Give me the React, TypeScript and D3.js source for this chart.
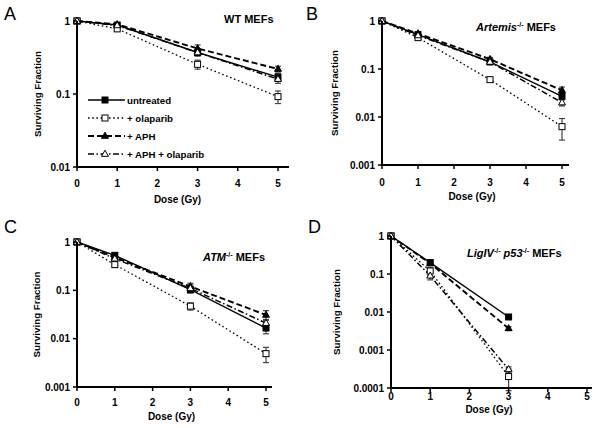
import React from "react";
import * as d3 from "d3";

// ---------- data ----------
const seriesNames = ["untreated", "+ olaparib", "+ APH", "+ APH + olaparib"];
const doses = [0, 1, 3, 5];
const dosesD = [0, 1, 3];
const xTicks = [0, 1, 2, 3, 4, 5];

// Panel A: WT MEFs
const wtUntreated = [1, 0.88, 0.37, 0.17];
const wtOlaparib = [1, 0.78, 0.255, 0.092];
const wtAPH = [1, 0.9, 0.42, 0.22];
const wtAPHOlaparib = [1, 0.87, 0.37, 0.16];
const wtErrUntreated = [0, 0.03, 0.03, 0.02];
const wtErrOlaparib = [0, 0.05, 0.036, 0.018];
const wtErrAPH = [0, 0.04, 0.05, 0.02];
const wtErrAPHOlaparib = [0, 0.03, 0.04, 0.02];

// Panel B: Artemis-/- MEFs
const artUntreated = [1, 0.52, 0.14, 0.027];
const artOlaparib = [1, 0.45, 0.06, 0.0063];
const artAPH = [1, 0.55, 0.16, 0.036];
const artAPHOlaparib = [1, 0.5, 0.14, 0.02];
const artErrUntreated = [0, 0.04, 0.01, 0.004];
const artErrOlaparib = [0, 0.04, 0.006, 0.003];
const artErrAPH = [0, 0.04, 0.015, 0.006];
const artErrAPHOlaparib = [0, 0.03, 0.01, 0.003];

// Panel C: ATM-/- MEFs
const atmUntreated = [1, 0.53, 0.103, 0.0166];
const atmOlaparib = [1, 0.34, 0.047, 0.0049];
const atmAPH = [1, 0.48, 0.12, 0.031];
const atmAPHOlaparib = [1, 0.45, 0.11, 0.021];
const atmErrUntreated = [0, 0.05, 0.015, 0.004];
const atmErrOlaparib = [0, 0.04, 0.008, 0.0017];
const atmErrAPH = [0, 0.05, 0.02, 0.007];
const atmErrAPHOlaparib = [0, 0.04, 0.02, 0.004];

// Panel D: LigIV-/- p53-/- MEFs
const ligUntreated = [1, 0.2, 0.0074];
const ligOlaparib = [1, 0.12, 0.0002];
const ligAPH = [1, 0.19, 0.0037];
const ligAPHOlaparib = [1, 0.09, 0.00031];
const ligErrUntreated = [0, 0.02, 0.0008];
const ligErrOlaparib = [0, 0.03, 0.000115];
const ligErrAPH = [0, 0.02, 0.0004];
const ligErrAPHOlaparib = [0, 0.02, 0.00005];

const yTicksA = [1, 0.1, 0.01];
const yTicksBC = [1, 0.1, 0.01, 0.001];
const yTicksD = [1, 0.1, 0.01, 0.001, 0.0001];
const yTickLabels: Record<string, string> = {
  "1": "1",
  "0.1": "0.1",
  "0.01": "0.01",
  "0.001": "0.001",
  "0.0001": "0.0001",
};

// ---------- styles ----------
const FONT = "'Liberation Sans', Arial, sans-serif";
const styles = [
  { dash: "none", width: 1.4, marker: "sq", fill: "#000" },
  { dash: "1.6,2.6", width: 1.3, marker: "sq", fill: "#fff" },
  { dash: "6,3", width: 1.9, marker: "tri", fill: "#000" },
  { dash: "6,2.5,1.5,2.5", width: 1.5, marker: "tri", fill: "#fff" },
];

type Panel = {
  letter: string;
  lx: number;
  ly: number;
  x0: number;
  x5: number;
  xEnd: number;
  yTop: number;
  yBot: number;
  yMin: number;
  yTicks: number[];
  xs: number[];
  series: number[][];
  errs: number[][];
  tickLabelY: number;
  axisTitleY: number;
  yLabelX: number;
  title: React.ReactNode;
  titleX: number;
  titleY: number;
  legend?: boolean;
};

const sup = (t: string) => (
  <tspan fontSize={7} dy={-4} fontStyle="normal">
    {t}
  </tspan>
);

const panels: Panel[] = [
  {
    letter: "A", lx: 4, ly: 20,
    x0: 77, x5: 278, xEnd: 289, yTop: 21, yBot: 167, yMin: 0.01, yTicks: yTicksA,
    xs: doses,
    series: [wtUntreated, wtOlaparib, wtAPH, wtAPHOlaparib],
    errs: [wtErrUntreated, wtErrOlaparib, wtErrAPH, wtErrAPHOlaparib],
    tickLabelY: 187, axisTitleY: 203, yLabelX: 41,
    title: <tspan>WT MEFs</tspan>, titleX: 224, titleY: 23, legend: true,
  },
  {
    letter: "B", lx: 306, ly: 20,
    x0: 382, x5: 562, xEnd: 569, yTop: 21, yBot: 165, yMin: 0.001, yTicks: yTicksBC,
    xs: doses,
    series: [artUntreated, artOlaparib, artAPH, artAPHOlaparib],
    errs: [artErrUntreated, artErrOlaparib, artErrAPH, artErrAPHOlaparib],
    tickLabelY: 186, axisTitleY: 200, yLabelX: 338,
    title: (
      <>
        <tspan fontStyle="italic">Artemis</tspan>
        {sup("-/-")}
        <tspan dy={4}> MEFs</tspan>
      </>
    ),
    titleX: 476, titleY: 31,
  },
  {
    letter: "C", lx: 4, ly: 233,
    x0: 77, x5: 266, xEnd: 272, yTop: 242, yBot: 387, yMin: 0.001, yTicks: yTicksBC,
    xs: doses,
    series: [atmUntreated, atmOlaparib, atmAPH, atmAPHOlaparib],
    errs: [atmErrUntreated, atmErrOlaparib, atmErrAPH, atmErrAPHOlaparib],
    tickLabelY: 406, axisTitleY: 420, yLabelX: 40,
    title: (
      <>
        <tspan fontStyle="italic">ATM</tspan>
        {sup("-/-")}
        <tspan dy={4}> MEFs</tspan>
      </>
    ),
    titleX: 203, titleY: 261,
  },
  {
    letter: "D", lx: 308, ly: 233,
    x0: 391, x5: 587, xEnd: 592, yTop: 236, yBot: 388, yMin: 0.0001, yTicks: yTicksD,
    xs: dosesD,
    series: [ligUntreated, ligOlaparib, ligAPH, ligAPHOlaparib],
    errs: [ligErrUntreated, ligErrOlaparib, ligErrAPH, ligErrAPHOlaparib],
    tickLabelY: 400, axisTitleY: 413, yLabelX: 340,
    title: (
      <>
        <tspan fontStyle="italic">LigIV</tspan>
        {sup("-/-")}
        <tspan dy={4} fontStyle="italic"> p53</tspan>
        {sup("-/-")}
        <tspan dy={4}> MEFs</tspan>
      </>
    ),
    titleX: 467, titleY: 257,
  },
];

function Marker({ kind, fill, x, y }: { kind: string; fill: string; x: number; y: number }) {
  if (kind === "sq") {
    const s = 6;
    return <rect x={x - s / 2} y={y - s / 2} width={s} height={s} fill={fill} stroke="#000" strokeWidth={1} />;
  }
  const s = 7;
  const h = s * 0.87;
  const pts = `${x},${y - h * 0.62} ${x - s / 2},${y + h * 0.38} ${x + s / 2},${y + h * 0.38}`;
  return <polygon points={pts} fill={fill} stroke="#000" strokeWidth={1} />;
}

function PanelView({ p }: { p: Panel }) {
  const x = d3.scaleLinear().domain([0, 5]).range([p.x0, p.x5]);
  const y = d3.scaleLog().domain([p.yMin, 1]).range([p.yBot, p.yTop]);
  const line = d3
    .line<[number, number]>()
    .x((d) => x(d[0]))
    .y((d) => y(d[1]));
  const midY = (p.yTop + p.yBot) / 2;
  return (
    <g fontFamily={FONT}>
      <text x={p.lx} y={p.ly} fontSize={18} fill="#000">
        {p.letter}
      </text>
      <text x={p.titleX} y={p.titleY} fontSize={11} fontWeight="bold">
        {p.title}
      </text>
      {/* error bars */}
      {p.series.map((s, si) =>
        s.map((v, i) => {
          const e = p.errs[si][i];
          if (!e) return null;
          const cx = x(p.xs[i]);
          const y1 = y(v + e);
          const y2 = y(v - e);
          return (
            <g key={`e${si}-${i}`} stroke="#444" strokeWidth={1.2}>
              <line x1={cx} x2={cx} y1={y1} y2={y2} />
              <line x1={cx - 3} x2={cx + 3} y1={y1} y2={y1} />
              <line x1={cx - 3} x2={cx + 3} y1={y2} y2={y2} />
            </g>
          );
        })
      )}
      {/* lines */}
      {p.series.map((s, si) => (
        <path
          key={`l${si}`}
          d={line(s.map((v, i) => [p.xs[i], v] as [number, number])) || ""}
          fill="none"
          stroke="#000"
          strokeWidth={styles[si].width}
          strokeDasharray={styles[si].dash}
        />
      ))}
      {/* markers */}
      {p.series.map((s, si) =>
        s.map((v, i) => (
          <Marker key={`m${si}-${i}`} kind={styles[si].marker} fill={styles[si].fill} x={x(p.xs[i])} y={y(v)} />
        ))
      )}
      {/* axes */}
      <line x1={p.x0} x2={p.x0} y1={p.yTop} y2={p.yBot} stroke="#000" strokeWidth={2} />
      <line x1={p.x0 - 1} x2={p.xEnd} y1={p.yBot} y2={p.yBot} stroke="#000" strokeWidth={2} />
      {p.yTicks.map((t) => (
        <g key={`yt${t}`}>
          <line x1={p.x0 - 4} x2={p.x0} y1={y(t)} y2={y(t)} stroke="#000" strokeWidth={1.5} />
          <text x={p.x0 - 7} y={y(t) + 3.5} fontSize={10} fontWeight="bold" textAnchor="end">
            {yTickLabels[String(t)]}
          </text>
        </g>
      ))}
      {xTicks.map((t) => (
        <g key={`xt${t}`}>
          <line x1={x(t)} x2={x(t)} y1={p.yBot} y2={p.yBot + 4} stroke="#000" strokeWidth={1.5} />
          <text x={x(t)} y={p.tickLabelY} fontSize={10} fontWeight="bold" textAnchor="middle">
            {t}
          </text>
        </g>
      ))}
      <text x={(p.x0 + p.x5) / 2} y={p.axisTitleY} fontSize={10} fontWeight="bold" textAnchor="middle">
        Dose (Gy)
      </text>
      <text
        transform={`translate(${p.yLabelX},${midY}) rotate(-90)`}
        fontSize={9.8}
        fontWeight="bold"
        textAnchor="middle"
      >
        Surviving Fraction
      </text>
      {p.legend &&
        seriesNames.map((n, si) => {
          const ly = 100 + si * 18;
          return (
            <g key={`lg${si}`}>
              <line
                x1={88}
                x2={125}
                y1={ly}
                y2={ly}
                stroke="#000"
                strokeWidth={styles[si].width}
                strokeDasharray={styles[si].dash}
              />
              <Marker kind={styles[si].marker} fill={styles[si].fill} x={105} y={ly} />
              <text x={127} y={ly + 3.5} fontSize={9.7} fontWeight="bold">
                {n}
              </text>
            </g>
          );
        })}
    </g>
  );
}

export default function App() {
  return (
    <svg width={600} height={428} style={{ position: "absolute", left: 0, top: 0, background: "#fff" }}>
      <rect width={600} height={428} fill="#fff" />
      {panels.map((p) => (
        <PanelView key={p.letter} p={p} />
      ))}
    </svg>
  );
}
